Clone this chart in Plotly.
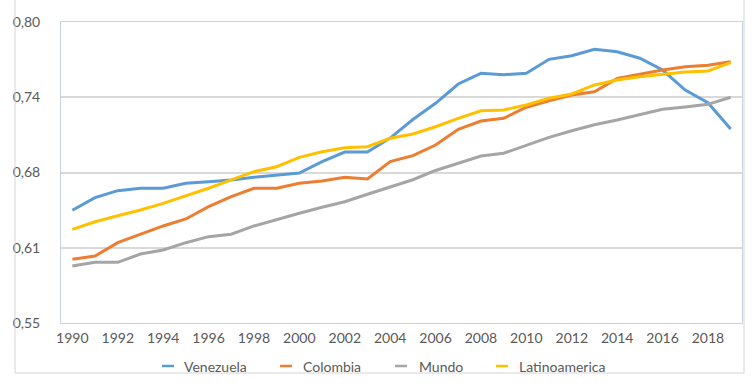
import plotly.graph_objects as go

years = list(range(1990, 2020))

venezuela = [0.6436, 0.6541, 0.6599, 0.6619, 0.6619, 0.6660, 0.6674, 0.6688, 0.6710, 0.6729,
             0.6745, 0.6840, 0.6920, 0.6920, 0.7036, 0.7190, 0.7325, 0.7485, 0.7574, 0.7562,
             0.7574, 0.7690, 0.7720, 0.7773, 0.7753, 0.7699, 0.7601, 0.7435, 0.7330, 0.7111]

colombia = [0.6029, 0.6056, 0.6167, 0.6239, 0.6306, 0.6364, 0.6466, 0.6549, 0.6619, 0.6619,
            0.6660, 0.6679, 0.6710, 0.6696, 0.6840, 0.6890, 0.6978, 0.7109, 0.7178, 0.7200,
            0.7292, 0.7346, 0.7394, 0.7421, 0.7532, 0.7566, 0.7601, 0.7629, 0.7640, 0.7670]

mundo = [0.5973, 0.6004, 0.6004, 0.6073, 0.6106, 0.6167, 0.6217, 0.6237, 0.6306, 0.6361,
         0.6411, 0.6461, 0.6507, 0.6569, 0.6627, 0.6690, 0.6767, 0.6826, 0.6887, 0.6910,
         0.6973, 0.7042, 0.7097, 0.7147, 0.7186, 0.7228, 0.7275, 0.7294, 0.7316, 0.7375]

latinoamerica = [0.6278, 0.6341, 0.6391, 0.6439, 0.6494, 0.6555, 0.6619, 0.6688, 0.6757, 0.6798,
                 0.6876, 0.6923, 0.6956, 0.6964, 0.7034, 0.7070, 0.7130, 0.7200, 0.7263, 0.7269,
                 0.7311, 0.7366, 0.7402, 0.7477, 0.7518, 0.7546, 0.7566, 0.7585, 0.7593, 0.7662]

series_names = ["Venezuela", "Colombia", "Mundo", "Latinoamerica"]
series_values = [venezuela, colombia, mundo, latinoamerica]
series_colors = ["#5B9BD5", "#ED7D31", "#A5A5A5", "#FFC000"]

y_tick_vals = [0.55, 0.6125, 0.675, 0.7375, 0.80]
y_tick_text = ["0,55", "0,61", "0,68", "0,74", "0,80"]
x_tick_vals = list(range(1990, 2019, 2))
x_tick_text = [str(v) for v in x_tick_vals]

font_family = "Lato, 'Liberation Sans', Arial, sans-serif"
text_color = "#595959"

W, H = 754, 383
ML, MR, MT, MB = 61, 12, 22, 60
PW, PH = W - ML - MR, H - MT - MB


def px_x(p):
    return (p - ML) / PW


def px_y(p):
    return (H - MB - p) / PH


fig = go.Figure()
for name, vals, col in zip(series_names, series_values, series_colors):
    fig.add_trace(go.Scatter(x=years, y=vals, name=name, mode="lines",
                             line=dict(color=col, width=3), showlegend=False))

# Legend drawn as small line keys + labels (Excel style)
legend_key_starts = [162, 280, 395, 496]
legend_text_starts = [182, 301, 417, 517]
legend_y = 366
shapes = []
annotations = []
for name, col, ks, ts in zip(series_names, series_colors, legend_key_starts, legend_text_starts):
    shapes.append(dict(type="line", xref="paper", yref="paper",
                       x0=px_x(ks), x1=px_x(ks + 12), y0=px_y(legend_y), y1=px_y(legend_y),
                       line=dict(color=col, width=2.5)))
    annotations.append(dict(text=name, xref="paper", yref="paper", x=px_x(ts), y=px_y(legend_y),
                            xanchor="left", yanchor="middle", showarrow=False,
                            font=dict(size=14, color=text_color, family=font_family)))

# outer chart frame
shapes.append(dict(type="rect", xref="paper", yref="paper",
                   x0=px_x(15), x1=px_x(744), y0=px_y(373), y1=px_y(-10),
                   line=dict(color="#D4D4D4", width=1), fillcolor="rgba(0,0,0,0)",
                   layer="above"))

fig.update_layout(
    width=W, height=H,
    margin=dict(l=ML, r=MR, t=MT, b=MB, autoexpand=False),
    paper_bgcolor="white", plot_bgcolor="white",
    font=dict(family=font_family, size=14, color=text_color),
    showlegend=False,
    xaxis=dict(range=[1989.5, 2019.5], tickvals=x_tick_vals, ticktext=x_tick_text,
               showgrid=False, zeroline=False, showline=True, linecolor="#C9D3E8",
               linewidth=1, mirror=True, ticks="", ticklabelstandoff=2, automargin=False),
    yaxis=dict(range=[0.55, 0.80], tickvals=y_tick_vals, ticktext=y_tick_text,
               showgrid=True, gridcolor="#D9D9D9", gridwidth=1.5, zeroline=False,
               showline=True, linecolor="#C9D3E8", linewidth=1, mirror=True,
               ticks="", ticklabelstandoff=17, automargin=False),
    shapes=shapes,
    annotations=annotations,
)

fig.write_html("out.html", config={"displayModeBar": False})

with open("out.html", "r", encoding="utf-8") as f:
    html = f.read()
html = html.replace("<body>", "<body style=\"margin:0;padding:0;overflow:hidden\">", 1)
with open("out.html", "w", encoding="utf-8") as f:
    f.write(html)
